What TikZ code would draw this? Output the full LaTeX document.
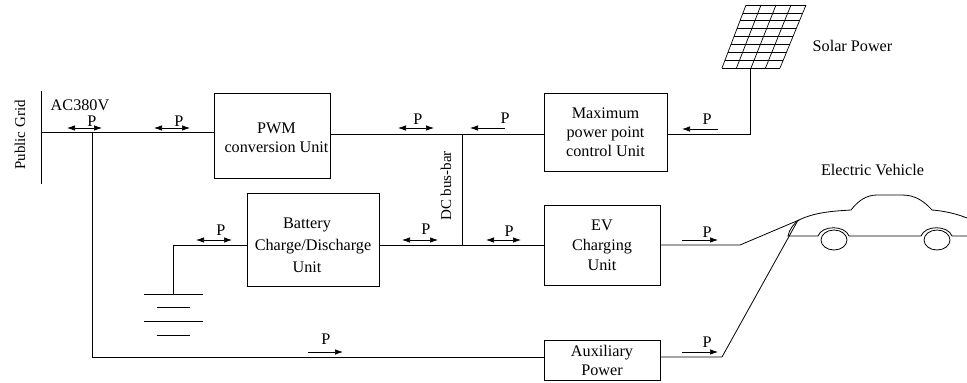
\documentclass[tikz,border=0pt]{standalone}
\usepackage{fontspec}
\setmainfont{Liberation Serif}
\usetikzlibrary{arrows.meta}
\begin{document}
\begin{tikzpicture}[x=1pt,y=-1pt,line width=0.8pt]

    \tikzset{
      unitbox/.style={
        draw,
        align=center,
        inner sep=0pt,
        font=\fontsize{16.2}{19}\selectfont,
      },
      label/.style={
        inner sep=0pt,
        font=\fontsize{16.2}{19}\selectfont,
      },
      powerarrow/.style={
        line width=0.7pt,
        >={Latex[length=8pt,width=5.5pt]},
      },
    }
    \useasboundingbox (0,0) rectangle (967,383);

	% units
	\node[unitbox,minimum width=116pt,minimum height=85pt] (pwm) at (272,135.5) {\rule{0pt}{15pt}\hspace*{9pt}PWM\\\hspace*{9pt}conversion Unit};
	\node[unitbox,minimum width=123pt,minimum height=78pt] (mppt) at (605.5,132) {Maximum\\power point\\control Unit};
	\node[unitbox,minimum width=132pt,minimum height=93pt,font=\fontsize{16.2}{22}\selectfont] (battery) at (313,239.5) {\rule{0pt}{23pt}Battery\hspace*{12pt}\\Charge/Discharge\\Unit\hspace*{12pt}};
	\node[unitbox,minimum width=116pt,minimum height=80pt,font=\fontsize{16.2}{20}\selectfont] (ev) at (602,245) {EV\\Charging\\Unit};
	\node[unitbox,minimum width=116pt,minimum height=40pt] (aux) at (602,360) {Auxiliary\\Power};

	% texts
	\node[label,rotate=90,font=\fontsize{15}{19}\selectfont] (grid) at (20,135) {Public Grid};
	\node[label] (ac) at (80,105.5) {AC380V};
	\node[label,rotate=90,font=\fontsize{15}{19}\selectfont] (dcbus) at (446,186) {DC bus-bar};
	\node[label] (solar) at (852.5,46) {Solar Power};
	\node[label] (vehicle) at (872.5,170) {Electric Vehicle};

	% wires
	\coordinate (gridtop) at (41,91);
	\coordinate (gridbot) at (41,184);
	\coordinate (gridwire) at (41,132);
	\coordinate (tap) at (92,132);
	\coordinate (auxcorner) at (92,357);
	\coordinate (dctop) at (462,134);
	\coordinate (dcbot) at (462,245);
	\coordinate (pvbase) at (750,68);
	\coordinate (pvcorner) at (750,134);
	\coordinate (batcorner) at (173,245);
	\coordinate (battop) at (173,294);
	\coordinate (evbend) at (740,245);
	\coordinate (evplug) at (799,220);
	\coordinate (auxbend) at (722,357);
	\coordinate (auxplug) at (797,222);
	\draw (gridtop) -- (gridbot);
	\draw (gridwire) -- (gridwire -| pwm.west);
	\draw (tap) -- (auxcorner) -- (auxcorner -| aux.west);
	\draw (dctop -| pwm.east) -- (dctop -| mppt.west);
	\draw (dctop) -- (dcbot);
	\draw (dcbot -| battery.east) -- (dcbot -| ev.west);
	\draw (pvcorner -| mppt.east) -- (pvcorner) -- (pvbase);
	\draw (dcbot -| battery.west) -- (batcorner) -- (battop);
	\draw (dcbot -| ev.east) -- (evbend) -- (evplug);
	\draw (auxbend -| aux.east) -- (auxbend) -- (auxplug);

	% battery
	\coordinate (cellaw) at (143.5,294);
	\coordinate (cellae) at (203,294);
	\coordinate (cellbw) at (157,307);
	\coordinate (cellbe) at (190,307);
	\coordinate (cellcw) at (143.5,321);
	\coordinate (cellce) at (203,321);
	\coordinate (celldw) at (157,335);
	\coordinate (cellde) at (190,335);
	\draw (cellaw) -- (cellae);
	\draw (cellbw) -- (cellbe);
	\draw (cellcw) -- (cellce);
	\draw (celldw) -- (cellde);

	% power arrows
	\foreach \name/\ax/\ay/\bx/\px/\py/\tips in {
	  a/67/128/102/92/121/<->,
	  b/154/128/190/179/121/<->,
	  c/398/128/434/418/119/<->,
	  d/505/128/470/505/118/->,
	  e/718/129/682/707/119/->,
	  f/196/240/232/221/230/<->,
	  g/402/240/438/426/229/<->,
	  h/486/240/521/509/231/<->,
	  i/682/240/718/707/232/->,
	  j/308/352/343/326/339/->,
	  k/682/352/718/707/342/->}{
	  \coordinate (p\name start) at (\ax,\ay);
	  \coordinate (p\name end) at (\bx,\ay);
	  \draw[powerarrow,\tips] (p\name start) -- (p\name end);
	  \node[label] (p\name) at (\px,\py) {P};
	}

	% solar panel
	\foreach \row in {0,...,8}{
	  \draw[line width=0.7pt] ({746-3*\row},{5+7.875*\row}) -- ({806-3.25*\row},{5+7.875*\row});
	}
	\foreach \col in {0,...,4}{
	  \draw[line width=0.7pt] ({746+15*\col},5) -- ({722+14.5*\col},68);
	}

	% car
	\draw (evplug) .. controls (815,212) and (835,211) .. (851,210)
	  .. controls (858,201) and (866,195) .. (877,195)
	  -- (902,195) .. controls (915,195) and (924,201) .. (932,210)
	  .. controls (945,211) and (957,214) .. (967,218);
	\draw (evplug) .. controls (794,223) and (789,230) .. (788,236)
	  -- (818,236) .. controls (822,225) and (845,225) .. (849,236)
	  -- (921,236) .. controls (925,225) and (948,225) .. (952,236)
	  -- (967,236);
	\draw (834,240) ellipse [x radius=13,y radius=10];
	\draw (937,240) ellipse [x radius=13,y radius=10];

\end{tikzpicture}
\end{document}
